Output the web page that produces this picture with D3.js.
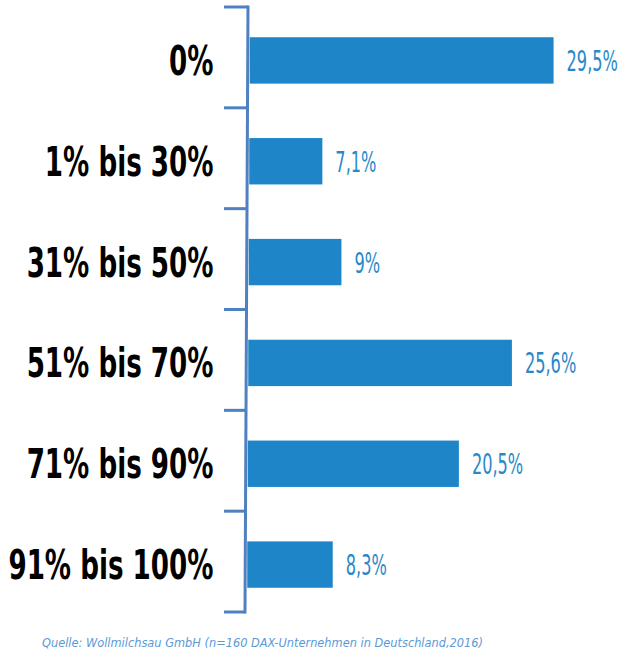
<!DOCTYPE html>
<html>
<head>
<meta charset="utf-8">
<script src="https://cdn.jsdelivr.net/npm/d3@7/dist/d3.min.js"></script>
<style>
  html, body { margin: 0; padding: 0; background: #ffffff; }
  svg { display: block; }
</style>
</head>
<body>
<div id="chart"></div>
<script>
// ---- data ----
const categories = ["0%", "1% bis 30%", "31% bis 50%", "51% bis 70%", "71% bis 90%", "91% bis 100%"];
const values = [29.5, 7.1, 9, 25.6, 20.5, 8.3];
const valueLabels = ["29,5%", "7,1%", "9%", "25,6%", "20,5%", "8,3%"];
const sourceNote = "Quelle: Wollmilchsau GmbH (n=160  DAX-Unternehmen in Deutschland,2016)";

// ---- layout ----
const W = 630, H = 663;
const svg = d3.select("#chart").append("svg").attr("width", W).attr("height", H);

const axisTop = 7, axisBottom = 612;
const axisXTop = 248, axisXBottom = 245;
const axisX = d3.scaleLinear().domain([axisTop, axisBottom]).range([axisXTop, axisXBottom]);

const y = d3.scaleBand()
  .domain(categories)
  .range([axisTop + 3, axisBottom + 3])
  .paddingInner(0.54)
  .paddingOuter(0.27);

const x = d3.scaleLinear().domain([0, 30]).range([0, 309]);

const barColor = "#1e86c8";
const axisColor = "#4f80bf";

const data = categories.map((c, i) => ({ cat: c, val: values[i], lab: valueLabels[i] }));

// bars
svg.append("g").selectAll("rect").data(data).join("rect")
  .attr("x", d => axisX(y(d.cat) + y.bandwidth() / 2) + 2)
  .attr("y", d => y(d.cat))
  .attr("width", d => x(d.val))
  .attr("height", y.bandwidth())
  .attr("fill", barColor);

// axis line (slightly slanted) and bracket ticks
const axisG = svg.append("g").attr("stroke", axisColor).attr("stroke-width", 3).attr("fill", "none");
axisG.append("line")
  .attr("x1", axisXTop).attr("y1", axisTop - 1.5)
  .attr("x2", axisXBottom).attr("y2", axisBottom + 1.5);
const step = (axisBottom - axisTop) / categories.length;
const tickYs = d3.range(categories.length + 1).map(i => axisTop + i * step);
axisG.selectAll("line.tick").data(tickYs).join("line")
  .attr("class", "tick")
  .attr("x1", d => 224)
  .attr("x2", d => axisX(d))
  .attr("y1", d => d)
  .attr("y2", d => d);

// category labels
svg.append("g").selectAll("text").data(data).join("text")
  .attr("transform", d => `translate(213.5, ${y(d.cat) + y.bandwidth() / 2 + 14.5}) scale(0.71,1)`)
  .attr("text-anchor", "end")
  .attr("font-family", "'DejaVu Sans Condensed', 'DejaVu Sans', sans-serif")
  .attr("font-weight", "bold")
  .attr("font-size", 41)
  .attr("fill", "#000000")
  .text(d => d.cat);

// value labels
svg.append("g").selectAll("text").data(data).join("text")
  .attr("transform", d => `translate(${axisX(y(d.cat) + y.bandwidth() / 2) + 2 + x(d.val) + 13}, ${y(d.cat) + y.bandwidth() / 2 + 10.5}) scale(0.62,1)`)
  .attr("text-anchor", "start")
  .attr("font-family", "'DejaVu Sans Condensed', 'DejaVu Sans', sans-serif")
  .attr("font-weight", "normal")
  .attr("font-size", 29)
  .attr("fill", "#2a88c8")
  .text(d => d.lab);

// source note
svg.append("text")
  .attr("x", 42)
  .attr("y", 647)
  .attr("font-family", "'DejaVu Sans', sans-serif")
  .attr("font-style", "italic")
  .attr("font-size", 13)
  .attr("fill", "#5b9ad8")
  .attr("textLength", 441)
  .attr("lengthAdjust", "spacingAndGlyphs")
  .text(sourceNote);
</script>
</body>
</html>
